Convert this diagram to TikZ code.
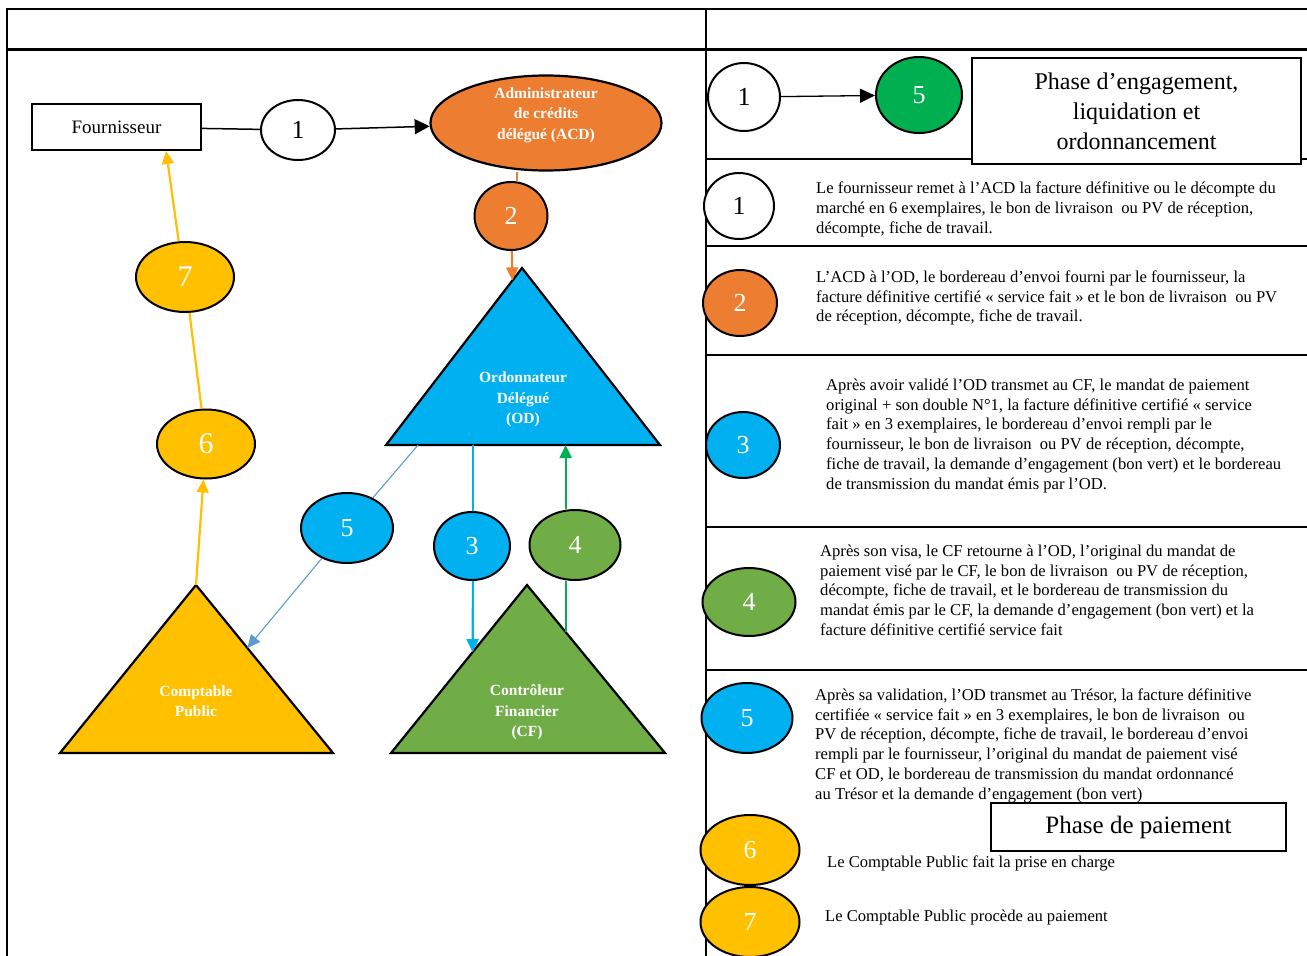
\documentclass[tikz,border=0pt]{standalone}
\usepackage{fontspec}
\setmainfont{Liberation Serif}
\usetikzlibrary{arrows.meta,calc,shapes.geometric}
\definecolor{acdorange}{HTML}{ED7D31}
\definecolor{odblue}{HTML}{00B0F0}
\definecolor{cpyellow}{HTML}{FFC000}
\definecolor{cfgreen}{HTML}{70AD47}
\definecolor{visagreen}{HTML}{00B050}
\definecolor{paleblue}{HTML}{5B9BD5}
\tikzset{
  frame/.style={line width=2.5pt},
  num/.style={ellipse,draw,line width=2pt,inner sep=0pt,font=\fontsize{26}{26}\selectfont},
  whitebold/.style={text=white,font=\bfseries\fontsize{15.5}{20.5}\selectfont,align=center},
  tri/.style={draw,line width=2.2pt,line join=miter},
  body/.style={anchor=north west,inner sep=0pt,align=left,font=\fontsize{16.6}{19.8}\selectfont},
  tip/.style={-{Triangle[length=13pt,width=12pt]}},
}
\begin{document}
\begin{tikzpicture}[x=1pt,y=-1pt]
  \useasboundingbox (0,0) rectangle (1307,956);
  % table frame
  \draw[frame] (7,956) -- (7,9) -- (1307,9);
  \draw[frame,line width=3pt] (7,49) -- (1307,49);
  \draw[frame] (706,9) -- (706,956);
  \foreach \y in {159,246,355,527,670}{\draw[frame,line width=2pt] (706,\y) -- (1307,\y);}

  % left: actors
  \node[draw,line width=2pt,minimum width=169,minimum height=46,font=\fontsize{19}{19}\selectfont]
    (four) at (116.5,127) {Fournisseur};
  \node[ellipse,draw,line width=2.2pt,fill=acdorange,minimum width=231,minimum height=95] (acd) at (546,123) {};
  \node[whitebold] (acdtxt) at (546,115) {Administrateur\\de crédits\\délégué (ACD)};

  \coordinate (odT) at (522,268); \coordinate (odL) at (386,445); \coordinate (odR) at (660,445);
  \draw[tri,fill=odblue] (odT) -- (odL) -- (odR) -- cycle;
  \node[whitebold] (od) at (523,399.5) {Ordonnateur\\Délégué\\(OD)};
  \coordinate (cpT) at (196,585); \coordinate (cpL) at (60,753); \coordinate (cpR) at (333,753);
  \draw[tri,fill=cpyellow] (cpT) -- (cpL) -- (cpR) -- cycle;
  \node[whitebold] (cp) at (196,701) {Comptable\\Public};
  \coordinate (cfT) at (527,585); \coordinate (cfL) at (391,753); \coordinate (cfR) at (665,753);
  \draw[tri,fill=cfgreen] (cfT) -- (cfL) -- (cfR) -- cycle;
  \node[whitebold] (cf) at (527,712.5) {Contrôleur\\Financier\\(CF)};

  % left: steps
  \node[num,fill=white,minimum width=74,minimum height=60] (c1) at (298,130) {1};
  \node[num,fill=acdorange,text=white,minimum width=73,minimum height=68] (c2) at (511,216) {2};
  \node[num,fill=odblue,text=white,minimum width=76,minimum height=68] (c3) at (472,546) {3};
  \node[num,fill=cfgreen,text=white,minimum width=91,minimum height=70] (c4) at (575,545) {4};
  \node[num,fill=odblue,text=white,minimum width=92,minimum height=70] (c5) at (347,528) {5};
  \node[num,fill=cpyellow,text=white,minimum width=98,minimum height=69,font=\fontsize{30}{30}\selectfont] (c6) at (206,444) {6};
  \node[num,fill=cpyellow,text=white,minimum width=98,minimum height=70,font=\fontsize{30}{30}\selectfont] (c7) at (185,277) {7};

  \draw[line width=1.5pt] (four) -- (c1);
  \draw[line width=1.5pt,-{Triangle[length=15pt,width=15pt]}] (c1) -- (acd);
  \draw[acdorange,line width=2.2pt] (c2.80) -- (c2.80 |- acd.south);
  \draw[acdorange,line width=2.2pt,tip] (c2) -- ($(odT)!0.07!(odL)$);
  \draw[paleblue,line width=1.1pt] ($(odL)!0.117!(odR)$) -- (c5);
  \draw[paleblue,line width=1.1pt,tip] (c5) -- ($(cpT)!0.375!(cpR)$);
  \coordinate (b3) at ($(odL)!0.3175!(odR)$);
  \draw[odblue,line width=2.2pt] (b3) -- (b3 |- c3.north);
  \draw[odblue,line width=2.2pt,tip] (b3 |- c3.south) -- ($(cfT)!0.4!(cfL)$);
  \coordinate (g4) at ($(cfT)!0.28!(cfR)$);
  \draw[visagreen,line width=2.2pt] (g4) -- (g4 |- c4.south);
  \draw[visagreen,line width=2.2pt,tip] (g4 |- c4.north) -- (g4 |- odR);
  \draw[cpyellow,line width=2.2pt,tip] (cpT) -- (c6);
  \draw[cpyellow,line width=2.2pt] (c6) -- (c7);
  \draw[cpyellow,line width=2.2pt,tip] (c7.100) -- ($(four.south west)!0.79!(four.south east)$);

  % right: legend
  \node[num,fill=white,minimum width=72,minimum height=68] (lg1) at (744,97) {1};
  \node[num,fill=visagreen,text=white,minimum width=86,minimum height=76] (lg5) at (919,95) {5};
  \draw[line width=1.3pt,-{Triangle[length=15pt,width=14pt]}] (lg1) -- (lg5);
  \node[draw,line width=2.5pt,fill=white,minimum width=329,minimum height=106,align=center,
    font=\fontsize{24}{30}\selectfont] (ph1) at (1136.5,111) {Phase d’engagement,\\liquidation et\\ordonnancement};

  % right: rows
  \foreach \i/\x/\y/\w/\h/\c/\tc in {1/739/206/70/66/white/black, 2/740/303/74/66/acdorange/white,
      3/743/445/74/66/odblue/white, 4/749/602/93/68/cfgreen/white, 5/747/718/91/70/odblue/white,
      6/750/850/99/70/cpyellow/white, 7/750/922/99/70/cpyellow/white}{
    \node[num,fill=\c,text=\tc,minimum width=\w,minimum height=\h] (n\i) at (\x,\y) {\i};
  }
  \node[body] (t1) at (816,182) {Le fournisseur remet à l’ACD la facture définitive ou le décompte du\\
    marché en 6 exemplaires, le bon de livraison~ ou PV de réception,\\décompte, fiche de travail.};
  \node[body] (t2) at (816,270.5) {L’ACD à l’OD, le bordereau d’envoi fourni par le fournisseur, la\\
    facture définitive certifié « service fait » et le bon de livraison~ ou PV\\de réception, décompte, fiche de travail.};
  \node[body] (t3) at (826,378.5) {Après avoir validé l’OD transmet au CF, le mandat de paiement\\
    original + son double N°1, la facture définitive certifié « service\\
    fait » en 3 exemplaires, le bordereau d’envoi rempli par le\\
    fournisseur, le bon de livraison~ ou PV de réception, décompte,\\
    fiche de travail, la demande d’engagement (bon vert) et le bordereau\\
    de transmission du mandat émis par l’OD.};
  \node[body] (t4) at (820,544.5) {Après son visa, le CF retourne à l’OD, l’original du mandat de\\
    paiement visé par le CF, le bon de livraison~ ou PV de réception,\\
    décompte, fiche de travail, et le bordereau de transmission du\\
    mandat émis par le CF, la demande d’engagement (bon vert) et la\\
    facture définitive certifié service fait};
  \node[body] (t5) at (815,688.5) {Après sa validation, l’OD transmet au Trésor, la facture définitive\\
    certifiée « service fait » en 3 exemplaires, le bon de livraison~ ou\\
    PV de réception, décompte, fiche de travail, le bordereau d’envoi\\
    rempli par le fournisseur, l’original du mandat de paiement visé\\
    CF et OD, le bordereau de transmission du mandat ordonnancé\\
    au Trésor et la demande d’engagement (bon vert)};
  \node[draw,line width=2.5pt,fill=white,minimum width=295,minimum height=48,
    font=\fontsize{25}{25}\selectfont] (ph2) at (1138.5,827) {\raisebox{-2pt}{Phase de paiement}};
  \node[body,anchor=west] (t6) at (827,863) {Le Comptable Public fait la prise en charge};
  \node[body,anchor=west] (t7) at (825,917) {Le Comptable Public procède au paiement};
\end{tikzpicture}
\end{document}
